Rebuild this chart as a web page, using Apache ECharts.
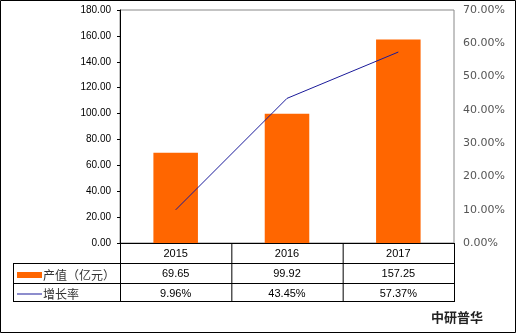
<!DOCTYPE html>
<html><head><meta charset="utf-8">
<script src="https://cdn.jsdelivr.net/npm/echarts@6/dist/echarts.min.js"></script>
<style>html,body{margin:0;padding:0;background:#fff}#c{width:516px;height:333px}</style>
</head><body><div id="c"></div>
<script>
const years = ['2015', '2016', '2017'];
const output = [69.65, 99.92, 157.25];
const growth = [9.96, 43.45, 57.37];
const barName = '产值（亿元）';
const lineName = '增长率';
const leftTicks = {min: 0, max: 180, interval: 20};
const rightTicks = {min: 0, max: 70, interval: 10};

const chart = echarts.init(document.getElementById('c'), null, {renderer: 'canvas'});
const L = 120, R = 454, T = 10, B = 243, X0 = 13;
const colW = (R - L) / 3;
const g = [];
function ln(x1, y1, x2, y2, c) {
  g.push({type: 'line', shape: {x1, y1, x2, y2}, style: {stroke: c || '#000', lineWidth: 1}, silent: true, z: 10});
}
// table lines
ln(X0, 263.5, R + 0.5, 263.5);
ln(X0, 283.5, R + 0.5, 283.5);
ln(X0, 301.5, R + 0.5, 301.5);
ln(X0 + 0.5, 263, X0 + 0.5, 302);
ln(L + 0.5, B, L + 0.5, 302);
ln(L + colW + 0.5, B, L + colW + 0.5, 302);
ln(L + 2 * colW + 0.5, B, L + 2 * colW + 0.5, 302);
ln(R + 0.5, B, R + 0.5, 302);
// outer border
g.push({type: 'rect', shape: {x: 0.5, y: 0.5, width: 515, height: 332}, style: {fill: 'none', stroke: '#000', lineWidth: 1}, silent: true});
g.push({type: 'text', left: 431, top: 311, style: {text: '中研普华', font: 'bold 13px "Noto Sans CJK SC"', fill: '#222'}});

const catAxis = (data, offset, showLine) => ({
  type: 'category', data, position: 'bottom', offset, gridIndex: 0,
  axisLine: {show: showLine, lineStyle: {color: '#000', width: 1}},
  axisTick: {show: false},
  axisLabel: {margin: 5, fontSize: 11, color: '#000', fontFamily: 'Liberation Sans'}
});

chart.setOption({
  animation: false,
  grid: {left: L, right: 516 - R, top: T, bottom: 333 - B, show: true, borderColor: '#888', borderWidth: 1},
  legend: {
    orient: 'vertical', left: 17, top: 269, padding: 0, itemGap: 7, itemWidth: 25, itemHeight: 6,
    data: [{name: barName, icon: 'rect'}, {name: lineName, icon: 'path://M0,3 L25,3 L25,4 L0,4 Z'}],
    textStyle: {fontSize: 12, color: '#333', fontFamily: '"Noto Sans CJK SC"', padding: [0, 0, 0, -4]}
  },
  xAxis: [
    catAxis(years, 0, true),
    catAxis(output.map(v => v.toFixed(2)), 20, false),
    catAxis(growth.map(v => v.toFixed(2) + '%'), 40, false)
  ],
  yAxis: [
    {type: 'value', min: leftTicks.min, max: leftTicks.max, interval: leftTicks.interval,
     axisLine: {show: true, lineStyle: {color: '#000'}}, axisTick: {show: true, length: 3, lineStyle: {color: '#000'}},
     splitLine: {show: false},
     axisLabel: {margin: 9, fontSize: 10, color: '#000', fontFamily: 'Liberation Sans', formatter: v => v.toFixed(2)}},
    {type: 'value', min: rightTicks.min, max: rightTicks.max, interval: rightTicks.interval, position: 'right',
     axisLine: {show: false}, axisTick: {show: false}, splitLine: {show: false},
     axisLabel: {margin: 9, fontSize: 11, color: '#555', fontFamily: 'DejaVu Sans', formatter: v => v.toFixed(2) + '%'}}
  ],
  series: [
    {name: barName, type: 'bar', data: output, xAxisIndex: 0, yAxisIndex: 0, barWidth: '40%',
     itemStyle: {color: '#FF6600'}},
    {name: lineName, type: 'line', data: growth, xAxisIndex: 0, yAxisIndex: 1, symbol: 'none',
     lineStyle: {color: '#1A1A9A', width: 1}, itemStyle: {color: '#1A1A9A'}}
  ],
  graphic: g
});
</script></body></html>
